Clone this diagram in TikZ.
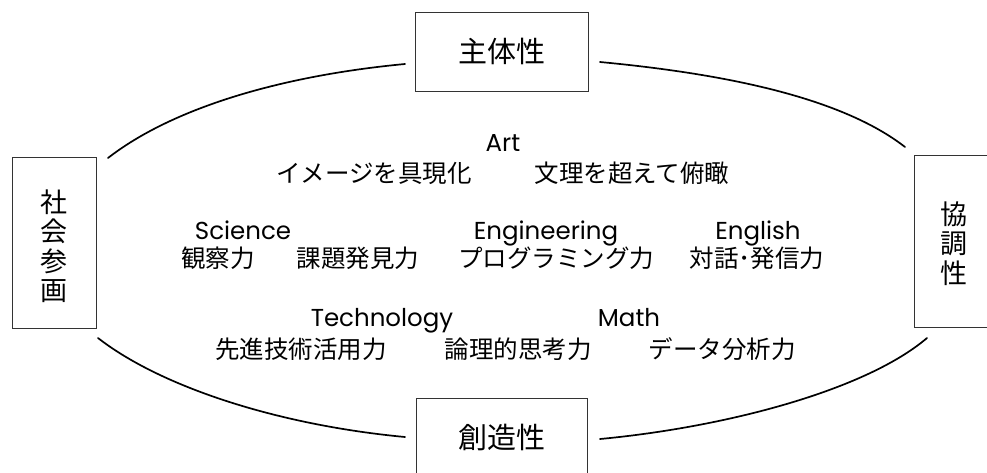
\documentclass[tikz,border=0pt]{standalone}
\usepackage{fontspec}
\setmainfont{Poppins}
\newfontfamily\jp{Noto Sans CJK JP}
\begin{document}
\begin{tikzpicture}[x=1pt,y=-1pt,
  box/.style={draw=black!80,line width=0.9pt,inner sep=0pt,fill=none},
  lbl/.style={font=\jp\fontsize{29}{30}\selectfont},
  vlbl/.style={font=\jp\fontsize{27}{29.5}\selectfont,align=center},
  jt/.style={font=\jp\fontsize{24.5}{26}\selectfont,inner sep=0pt,anchor=center},
  et/.style={font=\fontsize{24.5}{26}\selectfont,inner sep=0pt,anchor=base},
  arcline/.style={line width=1.7pt,line cap=round}]
\useasboundingbox (0,0) rectangle (987,472);
% boxes
\node[box,minimum width=173pt,minimum height=79pt] (top) at (501.5,51.5) {};
\node[lbl] (toplbl) at (top.center) {主体性};
\node[box,minimum width=171pt,minimum height=79pt] (bot) at (501.5,437.5) {};
\node[lbl] (botlbl) at (bot.center) {創造性};
\node[box,minimum width=84pt,minimum height=171pt] (left) at (54,242.5) {};
\node[vlbl] (leftlbl) at (54,246) {社\\会\\参\\画};
\node[box,minimum width=80pt,minimum height=172pt] (right) at (954,241) {};
\node[vlbl] (rightlbl) at (954,243.5) {協\\調\\性};
% arc end points
\coordinate (a1) at (108,158);
\coordinate (a2) at (405,64);
\coordinate (b1) at (600,62);
\coordinate (b2) at (905,147);
\coordinate (c1) at (98,338);
\coordinate (c2) at (405,437);
\coordinate (d1) at (600,439);
\coordinate (d2) at (927,338);
\draw[arcline] (a1) .. controls (171,109) and (278,76) .. (a2);
\draw[arcline] (b1) .. controls (727,74) and (842,98) .. (b2);
\draw[arcline] (c1) .. controls (161,387) and (278,425) .. (c2);
\draw[arcline] (d1) .. controls (727,427) and (866,390) .. (d2);
% texts
\node[et] (art) at (503,151) {Art};
\node[jt] (img) at (374,173) {イメージを具現化};
\node[jt] (bunri) at (632,173) {文理を超えて俯瞰};
\node[et] (sci) at (243,239) {Science};
\node[et] (eng) at (546,239) {Engineering};
\node[et] (engl) at (758,239) {English};
\node[jt] (kan) at (218,258) {観察力};
\node[jt] (kadai) at (358,258) {課題発見力};
\node[jt] (prog) at (556,258) {プログラミング力};
\node[jt] (taiwa) at (757,258) {対話･発信力};
\node[et] (tech) at (382,326) {Technology};
\node[et] (math) at (629,326) {Math};
\node[jt] (senshin) at (301,349) {先進技術活用力};
\node[jt] (ronri) at (518,349) {論理的思考力};
\node[jt] (data) at (722,349) {データ分析力};
\end{tikzpicture}
\end{document}
